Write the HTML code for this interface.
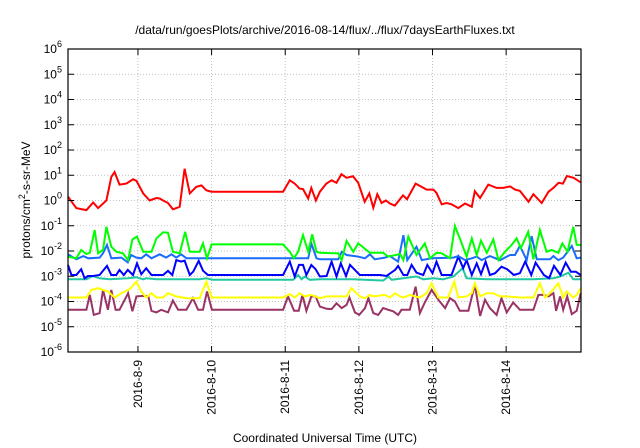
<!DOCTYPE html>
<html><head><meta charset="utf-8"><style>
html,body{margin:0;padding:0;background:#fff;}
svg{display:block;font-family:"Liberation Sans",sans-serif;}
</style></head><body>
<svg id="chart" width="640" height="448" viewBox="0 0 640 448" xmlns="http://www.w3.org/2000/svg">
<rect x="0" y="0" width="640" height="448" fill="#fff"/>
<text x="325" y="34" font-size="12" text-anchor="middle" fill="#000">/data/run/goesPlots/archive/2016-08-14/flux/../flux/7daysEarthFluxes.txt</text>
<g id="grid"></g>
<g id="series"></g>
<g id="axes"></g>
<text x="0" y="0" font-size="12" text-anchor="middle" transform="translate(30,200) rotate(-90)" fill="#000">protons/cm<tspan dy="-5" font-size="9">2</tspan><tspan dy="5">-s-sr-MeV</tspan></text>
<text x="325" y="442" font-size="12" text-anchor="middle" fill="#000">Coordinated Universal Time (UTC)</text>
</svg>
<script>
// x domain: hours since 2016-08-08 00:00; y domain: log10 flux
const xTickHours = [24, 48, 72, 96, 120, 144];
const xTickLabels = ["2016-8-9","2016-8-10","2016-8-11","2016-8-12","2016-8-13","2016-8-14"];
const yTickExps = [-6,-5,-4,-3,-2,-1,0,1,2,3,4,5,6];

const redT = [1.2,3.9,7.2,9.4,11,13.7,15.3,16.4,18,20.2,22.4,23.5,25.7,27.8,30,31.1,32.2,33.8,35.4,37.6,39.2,40.9,43,44.7,46.3,48,71.3,73.5,75.1,76.7,77.8,79.5,80.5,82,83.3,85.4,87.1,88.7,90.3,92,94.1,95.8,97.9,99.4,100.7,102,103.4,104.8,106.1,107.7,110.4,111.7,114.5,118.1,120.3,121.3,123,124.6,126.2,128.4,130.6,132.8,133.8,135.5,138.2,140.9,143.1,145.3,146.9,148.5,151.3,152.9,155.6,157.8,159.4,161.1,162.5,163.8,166,168.3];
const redV = [0.15,-0.3,-0.38,-0.08,-0.3,0,0.93,1.13,0.63,0.67,0.84,0.78,0.28,0,0.1,0.08,0,-0.1,-0.35,-0.25,1.26,0.28,0.54,0.6,0.4,0.35,0.35,0.8,0.67,0.47,0.45,0.08,0.5,0,0.35,0.67,0.8,0.7,1.04,0.9,0.96,0.7,-0.05,0.28,-0.29,0.25,-0.1,0,-0.12,-0.2,0.2,0.05,0.67,0.43,0.43,0.3,-0.15,-0.1,-0.15,-0.3,-0.12,-0.25,0.37,0.1,0.63,0.5,0.5,0.56,0.43,0.38,-0.05,0.25,-0.1,0.35,0.5,0.7,0.67,0.97,0.9,0.72];

const greenT = [1.2,3.9,5.5,7.2,8.3,9.9,11,12.6,13.7,15.3,17,19.1,20.8,22.2,23.7,25.7,28.4,30,32.2,33.8,35.4,37.6,39.4,40.9,44.1,45.2,46.5,48,71.3,73.5,74.8,76.2,77.8,79.5,80.8,82.2,83.3,87.6,89.3,90.4,92,94.2,95.8,99.6,103.9,105.6,109.4,110.5,112.1,114.8,117.5,119.2,121.3,123,125.7,127.3,128.9,131.1,132.8,134.4,135.8,137.7,139.8,141.5,143.6,145.8,147.4,148.8,151.2,152.9,155,157.2,158.8,161,162.3,164,165.9,167,168.3];
const greenV = [-2.22,-2.29,-1.96,-2.12,-2.07,-1.17,-2.09,-1.96,-1.04,-1.83,-2.03,-2.09,-2.36,-1.54,-1.43,-2.03,-2.03,-1.5,-1.26,-1.28,-2.03,-2.09,-1.24,-2.03,-2.03,-1.7,-2.29,-1.74,-1.74,-2.03,-2.29,-2.03,-1.37,-2.03,-1.34,-2.03,-2.07,-2.09,-2.09,-2.36,-1.6,-2.03,-1.7,-2.07,-2.07,-2.22,-2.12,-2.36,-1.43,-2.16,-1.7,-2.29,-2.07,-2.09,-2.29,-1.01,-1.5,-2.22,-1.5,-2.16,-1.59,-2.07,-1.54,-2.36,-2.03,-1.76,-1.5,-1.89,-1.24,-2.33,-1.17,-2.03,-1.96,-2.07,-1.7,-2.03,-1.04,-1.76,-1.76,-2.22];

const ltblueT = [1.2,3.9,6.2,7.8,11.5,12.6,13.9,15.3,18.6,20.7,21.8,23.5,25.1,26.7,28.4,31.1,33.2,34.9,36.5,38.1,39.8,71.3,73.5,79.5,80.5,82.2,83.3,89.3,90.4,92,95.8,98,99.6,101.2,104.5,106.1,108.8,110.5,111.8,114.8,116.5,119.7,126.8,128.4,130.6,132.8,134.4,136,138.7,142,145.3,146.9,148.5,150.7,152.3,154,158.3,159.4,161,162.6,165.4,167,168.3];
const ltblueV = [-2.13,-2.33,-2.2,-2.29,-2.26,-2.09,-1.76,-2.29,-2.26,-2.45,-2.16,-2.26,-2.29,-2.13,-2.29,-2.13,-2.26,-2.13,-2.26,-2.13,-2.29,-2.29,-2.29,-2.29,-1.7,-2.29,-2.33,-2.33,-2.03,-2.16,-2.22,-2.29,-2.13,-2.33,-2.26,-2.2,-2.42,-1.37,-2.36,-1.83,-2.36,-2.29,-2.26,-2.2,-2.36,-2.29,-2.22,-2.36,-2.2,-2.36,-2.16,-2.16,-1.8,-2.36,-1.41,-2.33,-2.33,-2.2,-2.36,-2.26,-1.8,-2.29,-2.26];

const blueT = [1.2,2.3,3.9,5.5,6.6,7.7,9.3,11.5,13.9,15.3,16.9,18,19.4,20.7,22.4,23.7,25.1,26.7,28.4,30,32.2,33.8,35.2,36.5,38.1,39.2,40.9,42,43.8,45.2,46.8,71.3,73.5,75.1,76.5,77.8,78.9,80.5,81.9,83.3,85.5,87.1,88.7,90.1,91.8,93.1,94.7,96.3,102.9,105,107.8,108.8,110.5,111.8,113.2,114.8,117,118.3,120,121.3,123,126.2,128.4,130,131.1,132.8,134.4,135.8,137.3,138.7,140.4,142.5,144.3,146.5,148.5,150.2,152.2,153.6,156.3,158,159.6,161.7,163.4,165.1,166.7,168.3];
const blueV = [-2.55,-2.95,-2.95,-2.72,-3.08,-2.99,-2.99,-2.95,-2.59,-2.95,-2.95,-2.75,-2.95,-2.75,-2.95,-2.49,-2.92,-2.68,-2.95,-2.95,-2.95,-2.79,-2.95,-2.36,-2.42,-2.38,-2.95,-2.82,-2.39,-2.78,-2.95,-2.95,-2.42,-3.01,-2.55,-2.55,-2.95,-2.55,-2.72,-3.01,-2.99,-2.42,-3.01,-2.49,-2.99,-2.55,-2.75,-2.95,-2.95,-2.99,-2.75,-2.59,-2.95,-2.95,-2.55,-2.86,-2.95,-2.55,-2.88,-2.42,-2.95,-2.95,-2.22,-2.68,-2.36,-2.95,-2.49,-2.92,-2.42,-2.95,-2.88,-2.62,-2.72,-2.95,-2.88,-2.42,-2.95,-2.46,-2.95,-3.08,-2.59,-2.95,-2.46,-2.82,-2.82,-2.95];

const tealT = [1.2,7.2,9.3,11.5,14.8,20.8,23.5,25.7,26.7,30,35.4,39.8,44.1,46.3,48.5,71.3,74.6,76.2,77.3,78.4,80,83.3,94.2,104,105.6,106.7,114.8,117,120.3,123.5,126.8,129.8,131.1,137.7,144.2,152.9,159.4,161.6,164.3,165.9,168.3];
const tealV = [-3.12,-3.12,-2.99,-3.08,-3.12,-3.08,-3.04,-3.12,-3.08,-3.12,-3.12,-3.12,-3.12,-3.08,-3.14,-3.14,-3.14,-2.95,-3.12,-3.01,-3.14,-3.12,-3.12,-3.17,-3.01,-3.14,-3.01,-3.12,-3.08,-3.12,-3.01,-2.68,-3.08,-3.12,-3.12,-3.12,-3.08,-3.01,-2.86,-3.12,-3.12];

const yellowT = [1.2,7.2,8.8,11,12.6,14.2,16.4,18.6,21.3,23.5,25.1,26.7,28.4,30,32.2,33.8,36.5,39.8,44.1,46.3,48,71.3,73.5,75.1,76.7,78.4,80.5,83.3,85.5,89.8,92,93.6,96.3,98,99.6,100.7,104.5,106.1,107.8,109.4,110.5,112.6,114.3,115.9,118.1,119.7,121.9,125.1,127.1,128.4,131.1,132.8,133.8,135.5,137.7,139.8,142,144.2,148.5,152.9,155,156.7,158.3,161,162.6,163.7,165.9,167,168.3];
const yellowV = [-3.84,-3.84,-3.54,-3.47,-3.54,-3.6,-3.84,-3.67,-3.51,-3.21,-3.6,-3.84,-3.67,-3.84,-3.84,-3.67,-3.8,-3.87,-3.87,-3.21,-3.84,-3.84,-3.71,-3.84,-3.67,-3.8,-3.74,-3.87,-3.8,-3.8,-3.8,-3.47,-3.8,-3.87,-3.74,-3.8,-3.74,-3.84,-3.67,-3.8,-3.84,-3.74,-3.8,-3.84,-3.67,-3.28,-3.84,-3.84,-3.21,-3.84,-3.8,-3.67,-3.28,-3.8,-3.67,-3.67,-3.8,-3.8,-3.84,-3.84,-3.28,-3.84,-3.67,-3.28,-3.84,-3.6,-3.84,-3.74,-3.47];

const purpleT = [1.2,7.2,8.3,9.6,11.5,12.6,14.2,15.3,16.7,18,20.8,22.2,23.5,25.7,27.4,28.4,30,31.6,33.8,35.4,37.1,39.8,41.9,43.6,45.2,46.5,48.1,71.3,72.9,74.9,76.4,77.6,78.9,80.5,81.9,83.3,85.5,87.1,88.7,90.4,92,92.9,94.7,96.1,98,99.1,100.7,102.3,103.9,105.6,107.2,108.8,109.9,112.6,114.5,115.9,117.5,119.7,121.9,124.1,125.7,127.3,128.9,131.7,133.8,135.5,137.1,138.7,140.9,142.5,144.2,146.3,148.5,152.9,154.5,156.1,157.8,159.4,160.3,161.6,162.6,163.9,165.4,167,168.3];
const purpleV = [-4.33,-4.33,-3.74,-4.53,-4.46,-3.54,-4.33,-3.54,-4.33,-4.33,-3.67,-4.39,-3.8,-3.78,-3.8,-4.37,-4.43,-4.33,-4.43,-3.96,-4.33,-4.33,-3.87,-4.33,-4.33,-3.6,-4.33,-4.33,-3.8,-4.37,-4.37,-3.74,-4.37,-3.8,-3.8,-4.2,-4.29,-4.3,-4.07,-4.26,-4.13,-3.84,-4.43,-4.53,-4.26,-3.87,-4.46,-4.53,-4.26,-4.33,-4.39,-4.53,-4.33,-4.33,-3.41,-4.46,-4.04,-3.54,-3.93,-4.26,-3.87,-4.0,-4.37,-4.37,-3.34,-4.57,-3.93,-4.26,-4.53,-3.87,-4.43,-4.04,-4.33,-4.33,-3.74,-3.74,-3.8,-3.67,-4.37,-3.8,-4.33,-3.8,-4.5,-4.37,-3.67];

const seriesList = [
  ["series-purple", purpleT, purpleV, "#993366"],
  ["series-yellow", yellowT, yellowV, "#ffff00"],
  ["series-teal", tealT, tealV, "#20c8a0"],
  ["series-blue", blueT, blueV, "#0000ff"],
  ["series-light-blue", ltblueT, ltblueV, "#1a6cff"],
  ["series-green", greenT, greenV, "#00ff00"],
  ["series-red", redT, redV, "#ff0000"]
];

const L = 68, R = 581, T = 49, B = 352;
const X0 = 1.2, X1 = 168.4, Y0 = -6, Y1 = 6;
function xs(h){ return L + (h - X0) / (X1 - X0) * (R - L); }
function ys(v){ return B - (v - Y0) / (Y1 - Y0) * (B - T); }
const NS = "http://www.w3.org/2000/svg";
function mk(tag, attrs, parent){ const e = document.createElementNS(NS, tag); for (const k in attrs) e.setAttribute(k, attrs[k]); parent.appendChild(e); return e; }

const grid = document.getElementById("grid");
const axes = document.getElementById("axes");
const ser = document.getElementById("series");

yTickExps.forEach(function(p){
  const y = ys(p);
  if (p > Y0 && p < Y1) {
    const g = mk("line", {x1:L, x2:R, y1:y, y2:y, stroke:"#b0b0b0", "stroke-width":0.8, "stroke-dasharray":"1,2"}, grid);
    
    
  }
  const t1 = mk("line", {x1:L, x2:L+6, y1:y, y2:y, stroke:"#000", "stroke-width":1}, axes);
  
  
  const t2 = mk("line", {x1:R-6, x2:R, y1:y, y2:y, stroke:"#000", "stroke-width":1}, axes);
  
  
  const lab = mk("text", {x:62, y:y+4, "font-size":12, "text-anchor":"end", fill:"#000"}, axes);
  
  
  lab.appendChild(document.createTextNode("10"));
  const sup = mk("tspan", {dy:-6, "font-size":9}, lab);
  sup.textContent = String(p);
});

xTickHours.forEach(function(h, i){
  const x = xs(h);
  const g = mk("line", {x1:x, x2:x, y1:T, y2:B, stroke:"#b0b0b0", "stroke-width":0.8, "stroke-dasharray":"1,2"}, grid);
  
  
  const t1 = mk("line", {x1:x, x2:x, y1:B-6, y2:B, stroke:"#000", "stroke-width":1}, axes);
  
  
  const t2 = mk("line", {x1:x, x2:x, y1:T, y2:T+6, stroke:"#000", "stroke-width":1}, axes);
  
  
  const lab = mk("text", {x:0, y:0, "font-size":12, "text-anchor":"end", fill:"#000", transform:"translate(" + (x+4) + "," + (B+8) + ") rotate(-90)"}, axes);
  
  
  lab.textContent = xTickLabels[i];
});

const frame = mk("rect", {x:L, y:T, width:R-L, height:B-T, fill:"none", stroke:"#000", "stroke-width":1.2}, axes);



seriesList.forEach(function(s){
  const tArr = s[1], vArr = s[2];
  let d = "";
  for (let i = 0; i < tArr.length; i++) d += (i ? "L" : "M") + xs(tArr[i]).toFixed(1) + "," + ys(vArr[i]).toFixed(1);
  const p = mk("path", {d:d, fill:"none", stroke:s[3], "stroke-width":2, "stroke-linejoin":"miter"}, ser);
  
  
});
</script>
</body></html>
